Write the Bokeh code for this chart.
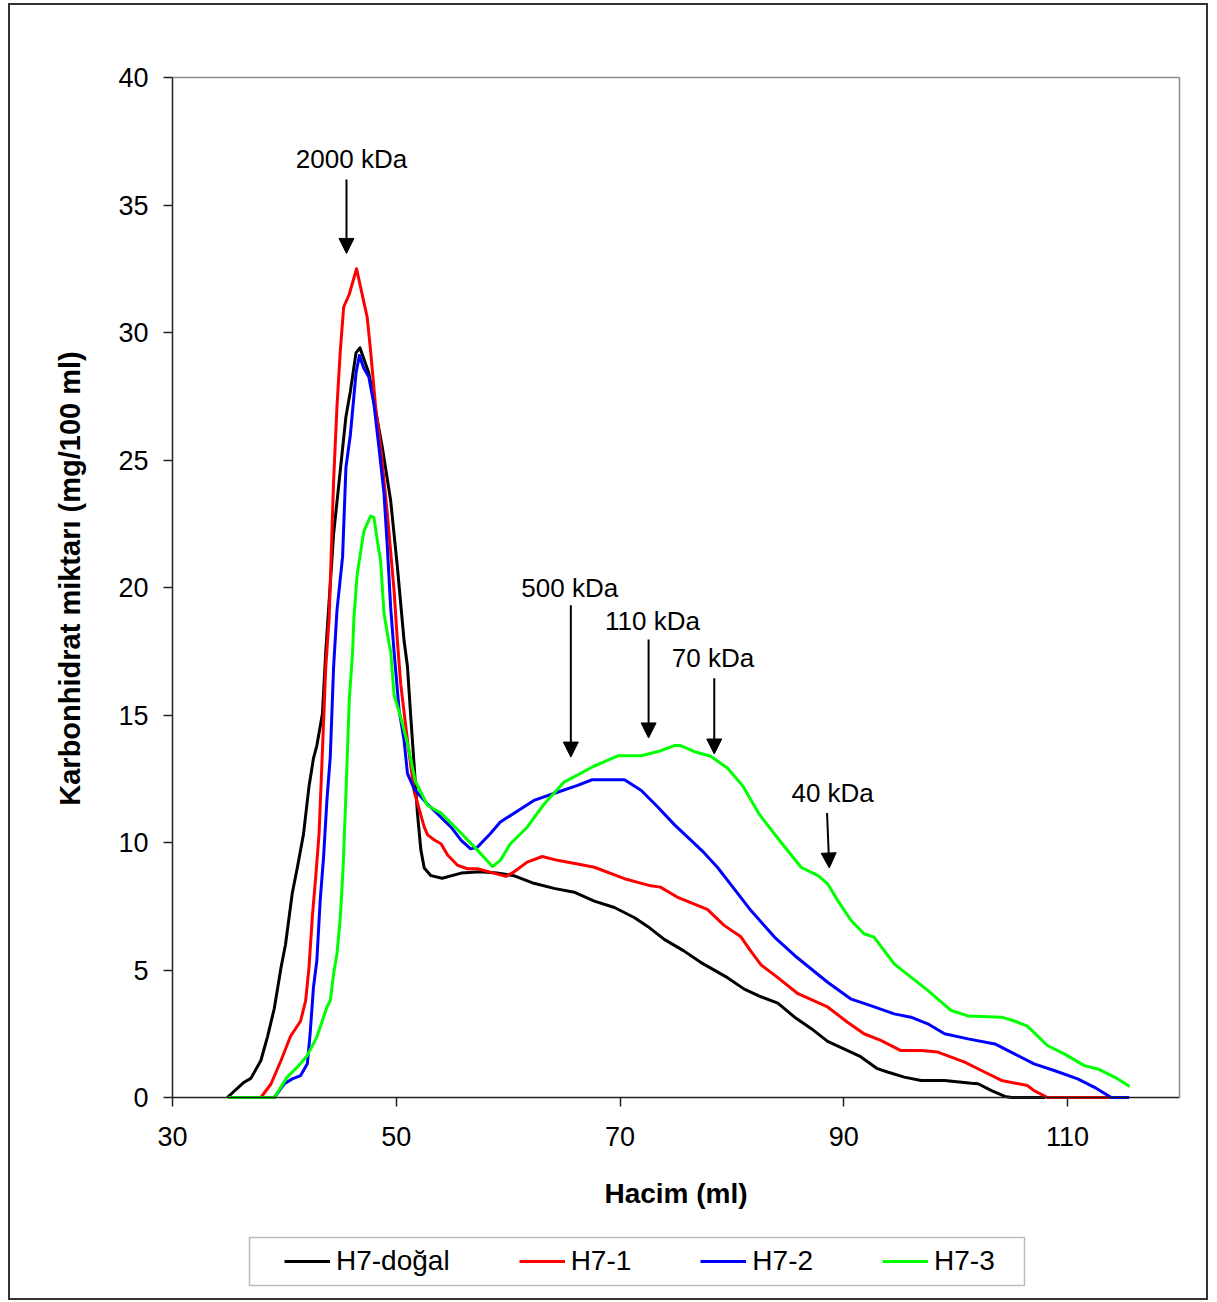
import math

from bokeh.plotting import figure
from bokeh.models import (Range1d, FixedTicker, Arrow, NormalHead, Label,
                          Legend, LegendItem, LinearAxis, BoxAnnotation)
from bokeh.embed import file_html
from bokeh.resources import INLINE

# Elution volume (ml) and carbohydrate content (mg/100 ml) per sample
h7_dogal_x = [34.9, 36.4, 37.0, 37.9, 38.5, 39.1, 39.7, 40.1, 40.7, 41.15, 41.7, 42.2, 42.6,
              42.9, 43.4, 43.7, 44.4, 45.5, 45.9, 46.4, 46.75, 47.55, 48.0, 48.75, 49.5, 50.1,
              50.7, 51.0, 51.3, 51.6, 51.9, 52.2, 52.5, 53.1, 54.1, 55.8, 57.5, 59.0, 60.5,
              62.3, 64.1, 65.9, 67.7, 69.5, 71.3, 72.5, 73.95, 75.7, 77.2, 79.6, 81.1, 82.6,
              84.1, 85.6, 87.1, 88.55, 90.05, 91.5, 93.0, 93.9, 95.4, 96.9, 99.0, 101.4, 102.0,
              103.2, 104.4, 105.0, 108.0]
h7_dogal_y = [0.0, 0.6, 0.75, 1.45, 2.4, 3.5, 5.1, 6.0, 8.0, 9.0, 10.3, 12.2, 13.3,
              13.8, 15.05, 17.5, 22.1, 26.7, 27.7, 29.2, 29.4, 28.4, 27.3, 25.5, 23.4, 20.8,
              17.9, 16.9, 14.9, 13.0, 11.1, 9.7, 9.0, 8.7, 8.6, 8.8, 8.85, 8.8, 8.7,
              8.4, 8.2, 8.05, 7.7, 7.45, 7.05, 6.7, 6.2, 5.75, 5.3, 4.7, 4.25, 3.95,
              3.7, 3.15, 2.7, 2.2, 1.9, 1.6, 1.13, 1.0, 0.8, 0.67, 0.67, 0.56, 0.54,
              0.27, 0.04, 0.0, 0.0]

h7_1_x = [35.0, 37.9, 38.8, 39.7, 40.55, 41.45, 41.9, 42.2, 42.5, 42.8, 43.1, 43.4, 43.7,
          44.0, 44.4, 44.7, 45.0, 45.3, 45.8, 46.45, 46.8, 47.4, 47.7, 48.15, 48.6, 49.2,
          49.8, 50.1, 50.4, 51.0, 51.6, 52.5, 52.8, 53.4, 54.0, 54.6, 55.5, 56.35, 57.25,
          58.4, 59.8, 60.5, 61.7, 63.05, 64.4, 66.2, 67.7, 70.4, 72.75, 73.6, 75.1, 77.8,
          79.3, 80.8, 81.7, 82.6, 84.1, 85.9, 88.55, 90.3, 91.8, 93.3, 95.1, 96.9, 98.4,
          100.8, 102.3, 104.1, 106.4, 107.0, 108.2, 113.8]
h7_1_y = [0.0, 0.0, 0.53, 1.45, 2.4, 3.0, 3.8, 5.1, 7.1, 8.65, 10.35, 13.6, 16.9,
          18.8, 24.2, 27.1, 29.3, 31.0, 31.5, 32.5, 31.8, 30.6, 29.3, 27.1, 25.5, 22.9,
          19.9, 17.9, 16.2, 14.0, 12.0, 10.6, 10.3, 10.1, 9.95, 9.5, 9.1, 8.97, 8.97,
          8.84, 8.67, 8.84, 9.23, 9.45, 9.3, 9.16, 9.03, 8.58, 8.3, 8.25, 7.86, 7.38,
          6.75, 6.3, 5.73, 5.2, 4.7, 4.07, 3.55, 2.96, 2.5, 2.24, 1.84, 1.84, 1.78,
          1.39, 1.06, 0.67, 0.47, 0.27, 0.0, 0.0]

h7_2_x = [35.0, 39.1, 40.0, 40.7, 41.45, 42.05, 42.3, 42.6, 42.9, 43.2, 43.5, 43.8, 44.1,
          44.4, 44.7, 45.2, 45.5, 45.9, 46.4, 46.7, 47.1, 47.55, 48.0, 48.45, 48.9, 49.2,
          49.5, 49.8, 50.25, 50.7, 51.0, 51.6, 52.8, 53.4, 54.3, 54.9, 55.8, 56.65, 57.25,
          58.4, 59.3, 60.7, 62.3, 64.4, 66.2, 67.5, 70.4, 71.9, 73.35, 74.85, 76.3, 77.5,
          78.7, 80.2, 81.7, 83.8, 85.6, 88.55, 90.6, 92.4, 94.5, 96.0, 97.5, 99.0, 101.1,
          103.5, 105.25, 107.0, 108.8, 110.9, 112.4, 113.9, 115.5]
h7_2_y = [0.0, 0.0, 0.54, 0.73, 0.86, 1.32, 2.5, 4.33, 5.37, 7.73, 9.42, 11.65, 13.35,
          16.9, 19.1, 21.2, 24.7, 26.0, 28.4, 29.1, 28.6, 28.25, 27.2, 25.5, 23.7, 21.6,
          19.2, 17.5, 15.2, 14.0, 12.7, 12.1, 11.5, 11.25, 10.86, 10.6, 10.08, 9.75, 9.82,
          10.34, 10.8, 11.2, 11.65, 11.97, 12.24, 12.46, 12.46, 12.04, 11.4, 10.7, 10.1, 9.6,
          9.03, 8.18, 7.33, 6.29, 5.57, 4.52, 3.87, 3.6, 3.28, 3.15, 2.89, 2.5, 2.3,
          2.1, 1.71, 1.32, 1.06, 0.73, 0.4, 0.0, 0.0]

h7_3_x = [35.0, 39.1, 40.25, 41.15, 42.05, 42.9, 43.5, 43.8, 44.1, 44.4, 44.7, 45.0, 45.25,
          45.5, 45.8, 46.1, 46.2, 46.5, 47.1, 47.7, 48.0, 48.3, 48.6, 48.9, 49.35, 49.5,
          49.8, 50.4, 51.0, 51.7, 52.8, 54.0, 55.5, 57.25, 58.6, 59.3, 60.2, 61.7, 63.2,
          65.0, 67.7, 69.8, 71.9, 73.65, 74.85, 75.4, 76.6, 78.1, 79.6, 81.0, 82.45, 84.4,
          86.2, 87.7, 88.55, 89.45, 90.65, 91.8, 92.7, 94.5, 97.5, 99.6, 101.1, 104.1, 105.25,
          106.4, 108.2, 109.7, 111.5, 112.7, 114.2, 115.55]
h7_3_y = [0.0, 0.0, 0.8, 1.19, 1.65, 2.37, 3.15, 3.54, 3.8, 4.85, 5.64, 7.07, 9.03,
          11.9, 15.6, 17.5, 18.7, 20.5, 22.2, 22.8, 22.75, 21.85, 21.05, 19.0, 17.8, 17.5,
          15.8, 14.9, 13.9, 12.4, 11.45, 11.15, 10.5, 9.7, 9.06, 9.3, 9.95, 10.6, 11.5,
          12.37, 13.0, 13.4, 13.4, 13.6, 13.8, 13.8, 13.57, 13.38, 12.92, 12.2, 11.1, 10.0,
          9.02, 8.7, 8.38, 7.73, 6.94, 6.42, 6.29, 5.24, 4.2, 3.41, 3.2, 3.15, 3.0,
          2.8, 2.04, 1.71, 1.25, 1.12, 0.8, 0.43]

series_names = ["H7-doğal", "H7-1", "H7-2", "H7-3"]
series_colors = ["#000000", "#ff0000", "#0000ff", "#00ff00"]

# Molecular weight markers: label, arrow x, arrow top, arrow tip, label x, label y
marker_labels = ["2000 kDa", "500 kDa", "110 kDa", "70 kDa", "40 kDa"]
marker_x_start = [45.55, 65.6, 72.55, 78.42, 88.5]
marker_x_end = [45.55, 65.6, 72.55, 78.42, 88.7]
marker_y_start = [36.0, 19.3, 17.96, 16.44, 11.16]
marker_y_end = [33.1, 13.35, 14.1, 13.47, 9.0]
marker_label_x = [46.0, 65.5, 72.9, 78.3, 89.0]
marker_label_y = [36.8, 20.0, 18.7, 17.24, 11.94]

x_ticks = [30, 50, 70, 90, 110]
y_ticks = [0, 5, 10, 15, 20, 25, 30, 35, 40]
x_title = "Hacim (ml)"
y_title = "Karbonhidrat miktarı (mg/100 ml)"

X0, X1, Y0, Y1 = 30, 120, 0, 40

# Page geometry in px. The figure element carries a 2px frame; the canvas
# starts just inside it. The plotting frame fills the whole canvas so that
# nothing (tick labels, the legend) is clipped, and every axis is pinned to
# its data position.
W, H, BORDER = 1200, 1297, 2
PAGE_X, PAGE_Y = 8 + BORDER, 3 + BORDER          # canvas origin on the page
CW, CH = W, H                                    # canvas size
PLOT_L, PLOT_R, PLOT_T, PLOT_B = 172, 1179, 77, 1097  # 30..120 x 0..40 box on page
ppx = (PLOT_R - PLOT_L) / (X1 - X0)
ppy = (PLOT_B - PLOT_T) / (Y1 - Y0)


def page_x(px):
    return X0 + (px - PLOT_L) / ppx


def page_y(py):
    return Y0 + (PLOT_B - py) / ppy


p = figure(width=W, height=H, output_backend="svg", toolbar_location=None,
           x_range=Range1d(page_x(PAGE_X), page_x(PAGE_X + CW)),
           y_range=Range1d(page_y(PAGE_Y + CH), page_y(PAGE_Y)),
           min_border_left=0, min_border_right=0, min_border_top=0,
           min_border_bottom=0, x_axis_location=None, y_axis_location=None)
p.styles = {"border": f"{BORDER}px solid #333333", "margin-left": "8px", "margin-top": "3px"}
p.background_fill_color = "white"
p.border_fill_color = "white"
p.outline_line_color = None
p.xgrid.visible = False
p.ygrid.visible = False

xaxis = LinearAxis(fixed_location=Y0, bounds=(X0, X1))
yaxis = LinearAxis(fixed_location=X0, bounds=(Y0, Y1))
p.add_layout(xaxis, "below")
p.add_layout(yaxis, "left")

for ax, ticks in ((xaxis, x_ticks), (yaxis, y_ticks)):
    ax.ticker = FixedTicker(ticks=ticks)
    ax.minor_tick_line_color = None
    ax.major_tick_in = 0
    ax.major_tick_out = 9
    ax.major_tick_line_color = "#222222"
    ax.major_tick_line_width = 1.5
    ax.axis_line_color = "#222222"
    ax.axis_line_width = 1.5
    ax.major_label_text_font = "Liberation Sans"
    ax.major_label_text_font_size = "27px"
    ax.major_label_text_color = "black"

xaxis.major_label_standoff = 20
yaxis.major_label_standoff = 15

# grey top and right edges of the plotting box
top_edge = LinearAxis(fixed_location=Y1, bounds=(X0, X1), ticker=FixedTicker(ticks=[]),
                      minor_tick_line_color=None, axis_line_color="#8c8c8c",
                      axis_line_width=1.5)
right_edge = LinearAxis(fixed_location=X1, bounds=(Y0, Y1), ticker=FixedTicker(ticks=[]),
                        minor_tick_line_color=None, axis_line_color="#8c8c8c",
                        axis_line_width=1.5)
p.add_layout(top_edge, "above")
p.add_layout(right_edge, "right")

# axis titles
p.add_layout(Label(x=(X0 + X1) / 2, y=page_y(1193), text=x_title,
                   text_align="center", text_baseline="middle",
                   text_font="Liberation Sans", text_font_size="28px",
                   text_font_style="bold", text_color="black"))
p.add_layout(Label(x=page_x(69), y=page_y(578), text=y_title, angle=math.pi / 2,
                   text_align="center", text_baseline="middle",
                   text_font="Liberation Sans", text_font_size="29px",
                   text_font_style="bold", text_color="black"))

items = []
for name, color, xs, ys in zip(series_names, series_colors,
                               [h7_dogal_x, h7_1_x, h7_2_x, h7_3_x],
                               [h7_dogal_y, h7_1_y, h7_2_y, h7_3_y]):
    r = p.line(xs, ys, line_color=color, line_width=3, line_join="round")
    items.append(LegendItem(label=name, renderers=[r]))

for lab, xs, xe, ys, ye, lx, ly in zip(marker_labels, marker_x_start, marker_x_end,
                                       marker_y_start, marker_y_end,
                                       marker_label_x, marker_label_y):
    p.add_layout(Arrow(x_start=xs, y_start=ys, x_end=xe, y_end=ye,
                       line_color="black", line_width=2,
                       end=NormalHead(size=15, fill_color="black", line_color="black")))
    p.add_layout(Label(x=lx, y=ly, text=lab, text_align="center", text_baseline="middle",
                       text_font="Liberation Sans", text_font_size="26px",
                       text_color="black"))

# legend box below the x axis
LEG_L, LEG_R, LEG_T, LEG_B = 249, 1024, 1237, 1285
p.add_layout(BoxAnnotation(left=page_x(LEG_L), right=page_x(LEG_R),
                           top=page_y(LEG_T), bottom=page_y(LEG_B),
                           fill_color="white", fill_alpha=1.0,
                           line_color="#222222", line_width=1.5, level="underlay"))

legend = Legend(items=items, orientation="horizontal",
                location=(284 - PAGE_X, PAGE_Y + CH - 1279),
                padding=0, margin=0, spacing=69, glyph_width=46, glyph_height=36,
                label_height=36, label_standoff=6,
                label_text_font="Liberation Sans", label_text_font_size="28px",
                label_text_color="black", border_line_alpha=0,
                background_fill_alpha=0)
p.add_layout(legend)

open("out.html", "w").write(file_html(p, INLINE))
